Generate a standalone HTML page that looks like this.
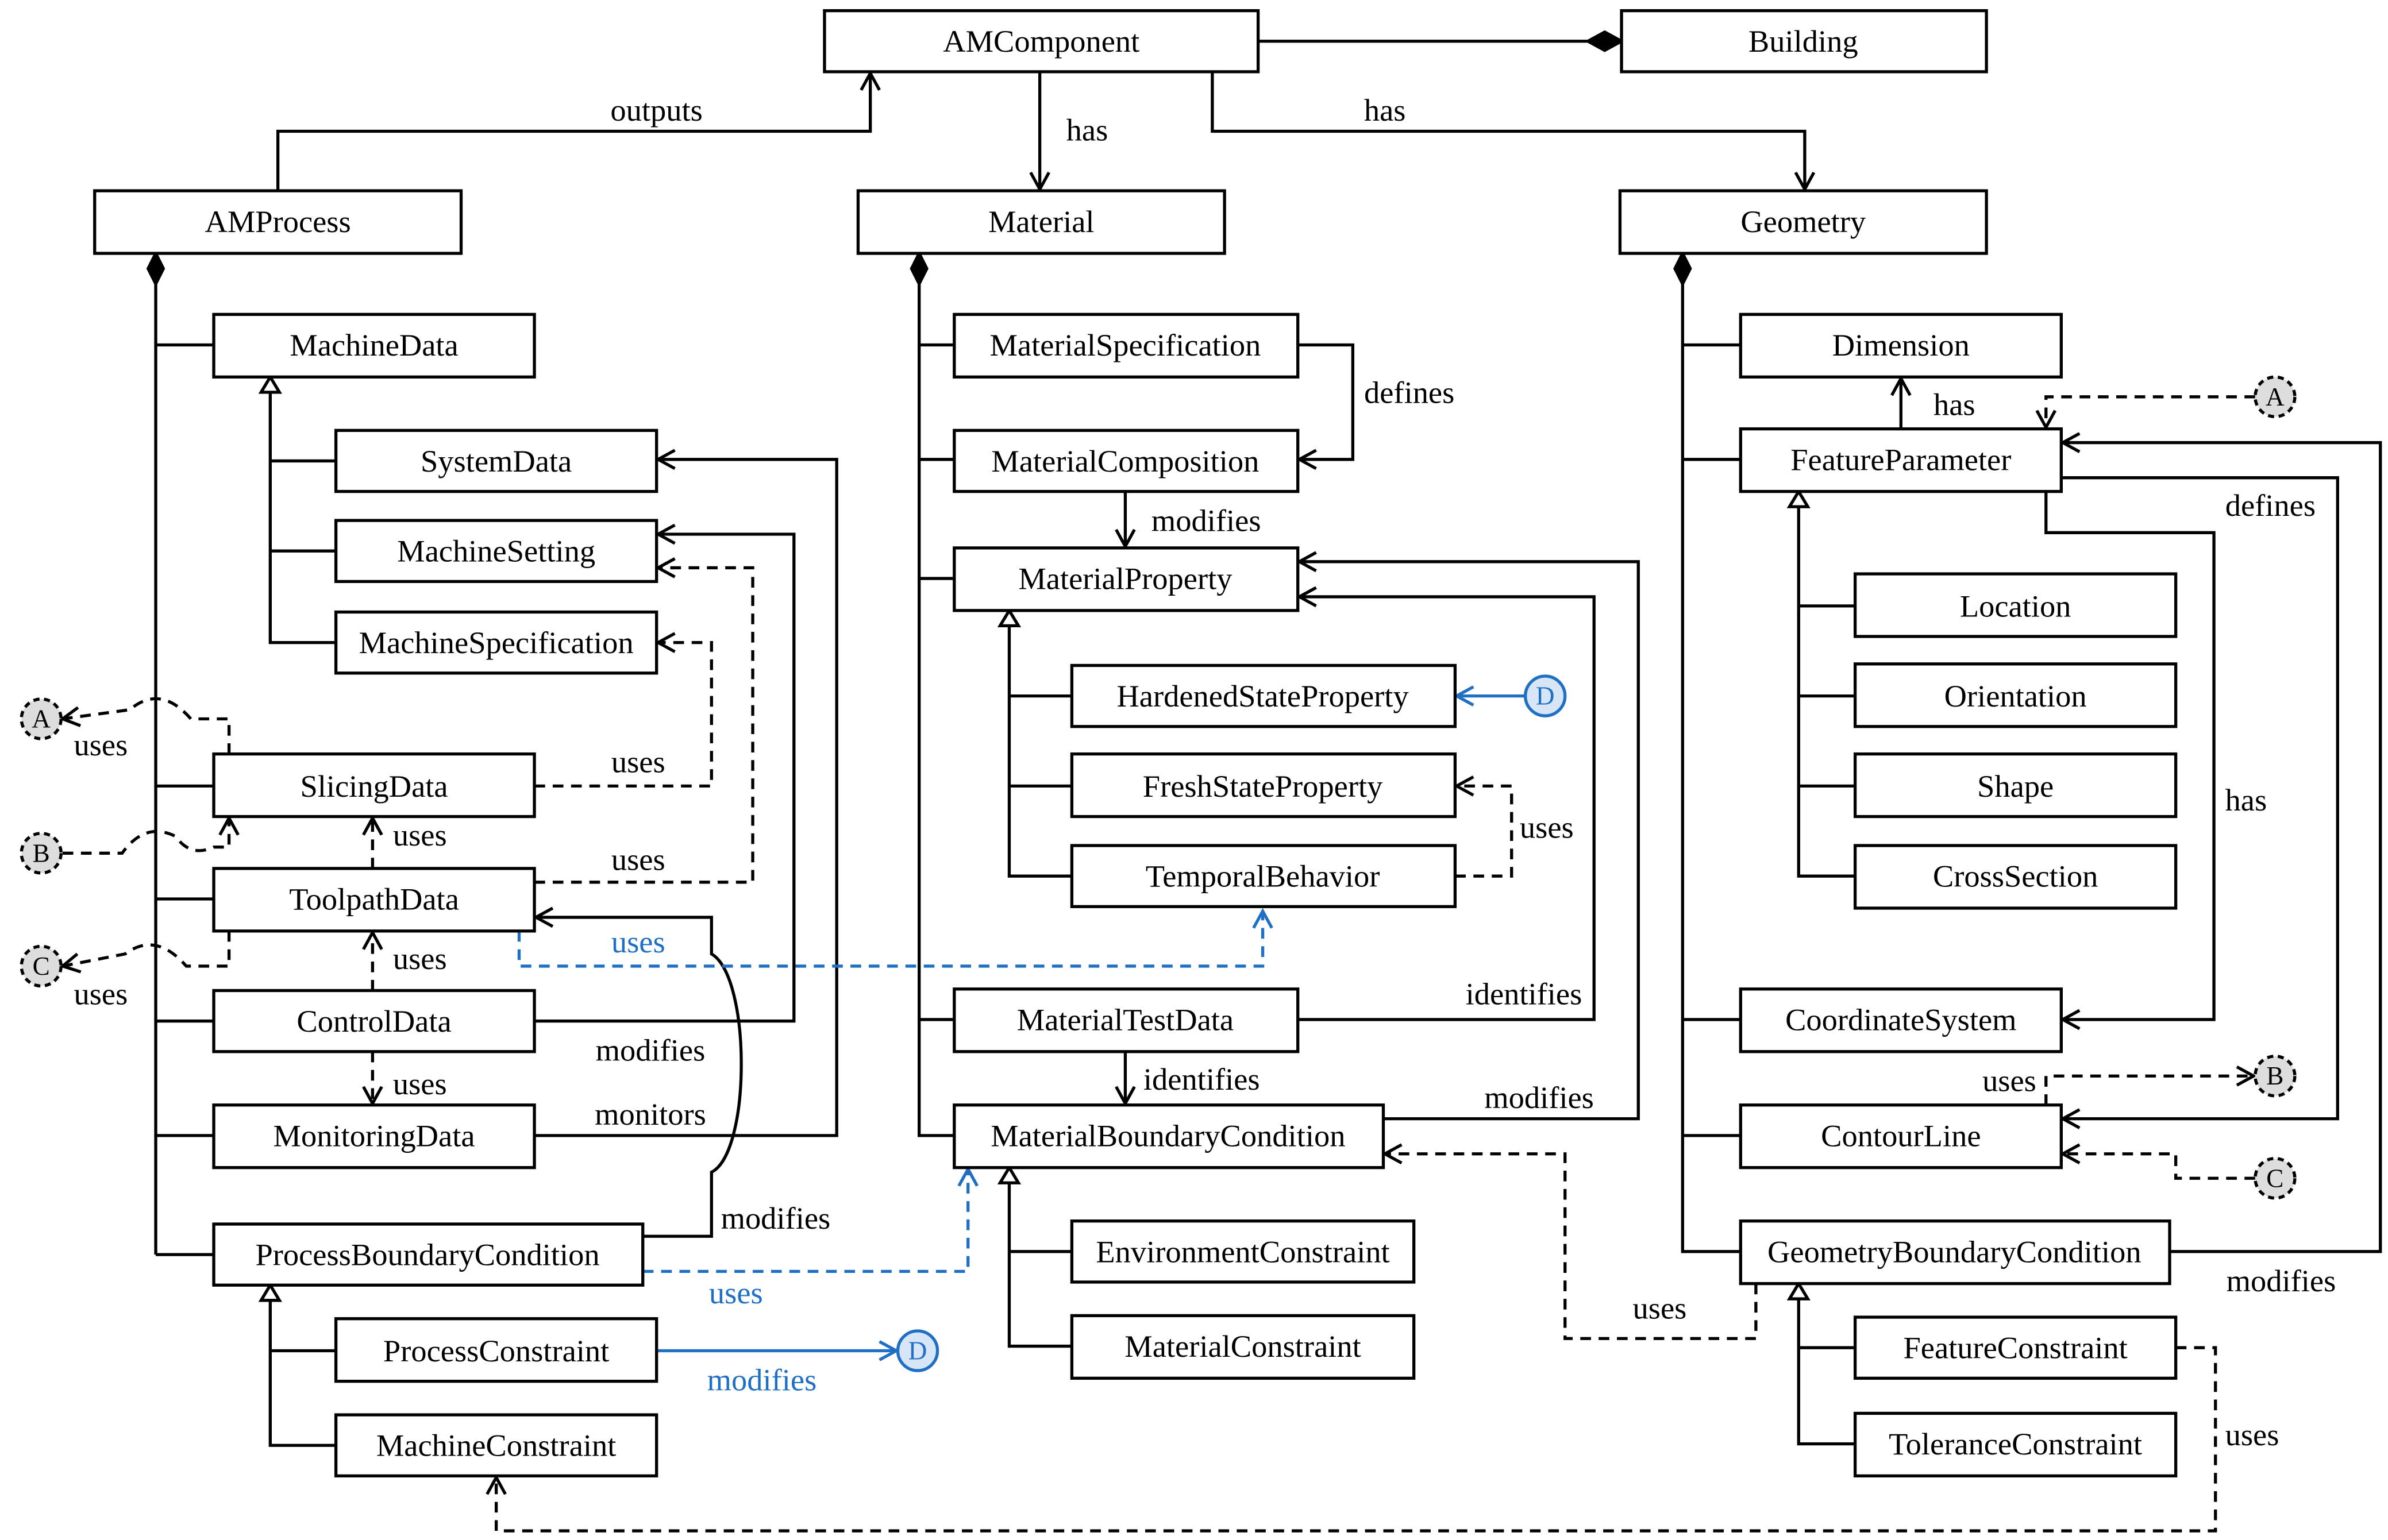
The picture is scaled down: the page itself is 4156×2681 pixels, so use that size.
<!DOCTYPE html>
<html><head><meta charset="utf-8"><style>html,body{margin:0;padding:0;background:#fff}svg{display:block}</style></head><body>
<svg xmlns="http://www.w3.org/2000/svg" width="4156" height="2681" viewBox="0 0 1564 1009" preserveAspectRatio="none" font-family="'Liberation Serif', serif" font-size="20.5">
<defs>
<marker id="a" markerUnits="userSpaceOnUse" markerWidth="16" markerHeight="16" refX="12" refY="7" orient="auto"><path d="M1,1 L12,7 L1,13" fill="none" stroke="#000" stroke-width="2"/></marker>
<marker id="ab" markerUnits="userSpaceOnUse" markerWidth="16" markerHeight="16" refX="12" refY="7" orient="auto"><path d="M1,1 L12,7 L1,13" fill="none" stroke="#1f6fc5" stroke-width="2"/></marker>
</defs>
<g fill="none" stroke="#000" stroke-width="2">
<path d="M102,176 V822 M102,226 H140 M102,515 H140 M102,589 H140 M102,669 H140 M102,744 H140 M102,822 H140"/>
<path d="M602,176 V744 H625 M602,226 H625 M602,301 H625 M602,379 H625 M602,668 H625"/>
<path d="M1102,176 V820 H1140 M1102,226 H1140 M1102,301 H1140 M1102,668 H1140 M1102,744 H1140"/>
<path d="M177,257 V421 H220 M177,302 H220 M177,361 H220"/>
<path d="M661,410 V574 H702 M661,456 H702 M661,515 H702"/>
<path d="M661,775 V882 H702 M661,820 H702"/>
<path d="M1178,332 V574 H1215 M1178,397 H1215 M1178,456 H1215 M1178,515 H1215"/>
<path d="M177,852 V947 H220 M177,885 H220"/>
<path d="M1178,851 V946 H1215 M1178,883 H1215"/>
<path d="M182,125 V86 H570 V48" marker-end="url(#a)"/>
<path d="M681,47 V124" marker-end="url(#a)"/>
<path d="M794,47 V86 H1182 V124" marker-end="url(#a)"/>
<path d="M824,27 H1042"/>
<path d="M850,226 H886 V301 H851" marker-end="url(#a)"/>
<path d="M737,322 V358" marker-end="url(#a)"/>
<path d="M850,668 H1044 V391 H851" marker-end="url(#a)"/>
<path d="M737,689 V723" marker-end="url(#a)"/>
<path d="M906,733 H1073 V368 H851" marker-end="url(#a)"/>
<path d="M350,744 H548 V301 H431" marker-end="url(#a)"/>
<path d="M350,669 H520 V350 H431" marker-end="url(#a)"/>
<path d="M421,810 H466 V768 C492,755 492,640 466,625 V601 H351" marker-end="url(#a)"/>
<path d="M1245,281 V248" marker-end="url(#a)"/>
<path d="M1340,322 V349 H1450 V668 H1351" marker-end="url(#a)"/>
<path d="M1350,313 H1531 V733 H1351" marker-end="url(#a)"/>
<path d="M1421,820 H1559 V290 H1351" marker-end="url(#a)"/>
</g>
<g fill="none" stroke="#000" stroke-width="2" stroke-dasharray="7,5">
<path d="M953,574 H990 V515 H954" marker-end="url(#a)"/>
<path d="M350,578 H493 V372 H431" marker-end="url(#a)"/>
<path d="M350,515 H466 V421 H431" marker-end="url(#a)"/>
<path d="M244,569 V536" marker-end="url(#a)"/>
<path d="M244,649 V611" marker-end="url(#a)"/>
<path d="M244,689 V723" marker-end="url(#a)"/>
<path d="M150,494 V471 H125 Q105,448 85,465 L41,471" marker-end="url(#a)"/>
<path d="M41,559 H80 Q95,538 115,548 Q125,562 140,555 H150 V536" marker-end="url(#a)"/>
<path d="M150,610 V633 H122 Q102,610 82,625 L41,633" marker-end="url(#a)"/>
<path d="M1477,260 H1340 V280" marker-end="url(#a)"/>
<path d="M1340,724 V705 H1476" marker-end="url(#a)"/>
<path d="M1477,772 H1425 V756 H1351" marker-end="url(#a)"/>
<path d="M1150,841 V877 H1025 V756 H907" marker-end="url(#a)"/>
<path d="M1425,883 H1451 V1003 H325 V968" marker-end="url(#a)"/>
</g>
<g fill="none" stroke="#1f6fc5" stroke-width="2">
<path d="M999,456 H954" marker-end="url(#ab)"/>
<path d="M430,885 H587" marker-end="url(#ab)"/>
<path d="M340,610 V633 H827 V597" stroke-dasharray="7,5" marker-end="url(#ab)"/>
<path d="M421,833 H634 V766" stroke-dasharray="7,5" marker-end="url(#ab)"/>
</g>
<g stroke="#000" stroke-width="2">
<path d="M1040,27 L1051,21 L1062,27 L1051,33 Z" fill="#000"/>
<path d="M102,166 L97,176 L102,186 L107,176 Z" fill="#000"/>
<path d="M602,166 L597,176 L602,186 L607,176 Z" fill="#000"/>
<path d="M1102,166 L1097,176 L1102,186 L1107,176 Z" fill="#000"/>
<g fill="#fff">
<path d="M177,247 L171,257 L183,257 Z"/>
<path d="M661,400 L655,410 L667,410 Z"/>
<path d="M661,765 L655,775 L667,775 Z"/>
<path d="M1178,322 L1172,332 L1184,332 Z"/>
<path d="M177,842 L171,852 L183,852 Z"/>
<path d="M1178,841 L1172,851 L1184,851 Z"/>
</g>
</g>
<g stroke="#000" stroke-width="2" stroke-dasharray="4,3" fill="#ddd">
<circle cx="27" cy="471" r="13"/><circle cx="27" cy="559" r="13"/><circle cx="27" cy="633" r="13"/>
<circle cx="1490" cy="260" r="13"/><circle cx="1490" cy="705" r="13"/><circle cx="1490" cy="772" r="13"/>
</g>
<g stroke="#1f6fc5" stroke-width="2" fill="#d6e6f7">
<circle cx="1012" cy="456" r="13"/><circle cx="601" cy="885" r="13"/>
</g>
<g font-size="17" text-anchor="middle" dominant-baseline="central">
<text x="27" y="471">A</text><text x="27" y="559">B</text><text x="27" y="633">C</text>
<text x="1490" y="260">A</text><text x="1490" y="705">B</text><text x="1490" y="772">C</text>
<text x="1012" y="456" fill="#1f6fc5">D</text><text x="601" y="885" fill="#1f6fc5">D</text>
</g>
<g fill="#fff" stroke="#000" stroke-width="2">
<rect x="540" y="7" width="284" height="40"/><rect x="1062" y="7" width="239" height="40"/>
<rect x="62" y="125" width="240" height="41"/><rect x="562" y="125" width="240" height="41"/><rect x="1061" y="125" width="240" height="41"/>
<rect x="140" y="206" width="210" height="41"/><rect x="220" y="282" width="210" height="40"/><rect x="220" y="341" width="210" height="40"/><rect x="220" y="401" width="210" height="40"/>
<rect x="140" y="494" width="210" height="41"/><rect x="140" y="569" width="210" height="41"/><rect x="140" y="649" width="210" height="40"/><rect x="140" y="724" width="210" height="41"/>
<rect x="140" y="802" width="281" height="40"/><rect x="220" y="864" width="210" height="41"/><rect x="220" y="927" width="210" height="40"/>
<rect x="625" y="206" width="225" height="41"/><rect x="625" y="282" width="225" height="40"/><rect x="625" y="359" width="225" height="41"/>
<rect x="702" y="436" width="251" height="40"/><rect x="702" y="494" width="251" height="41"/><rect x="702" y="554" width="251" height="40"/>
<rect x="625" y="648" width="225" height="41"/><rect x="625" y="724" width="281" height="41"/>
<rect x="702" y="800" width="224" height="40"/><rect x="702" y="862" width="224" height="41"/>
<rect x="1140" y="206" width="210" height="41"/><rect x="1140" y="281" width="210" height="41"/>
<rect x="1215" y="376" width="210" height="41"/><rect x="1215" y="435" width="210" height="41"/><rect x="1215" y="494" width="210" height="41"/><rect x="1215" y="554" width="210" height="41"/>
<rect x="1140" y="648" width="210" height="41"/><rect x="1140" y="724" width="210" height="41"/><rect x="1140" y="800" width="281" height="41"/>
<rect x="1215" y="863" width="210" height="40"/><rect x="1215" y="926" width="210" height="41"/>
</g>
<g text-anchor="middle" dominant-baseline="central">
<text x="682" y="27">AMComponent</text><text x="1181" y="27">Building</text>
<text x="182" y="145">AMProcess</text><text x="682" y="145">Material</text><text x="1181" y="145">Geometry</text>
<text x="245" y="226">MachineData</text><text x="325" y="302">SystemData</text><text x="325" y="361">MachineSetting</text><text x="325" y="421">MachineSpecification</text>
<text x="245" y="515">SlicingData</text><text x="245" y="589">ToolpathData</text><text x="245" y="669">ControlData</text><text x="245" y="744">MonitoringData</text>
<text x="280" y="822">ProcessBoundaryCondition</text><text x="325" y="885">ProcessConstraint</text><text x="325" y="947">MachineConstraint</text>
<text x="737" y="226">MaterialSpecification</text><text x="737" y="302">MaterialComposition</text><text x="737" y="379">MaterialProperty</text>
<text x="827" y="456">HardenedStateProperty</text><text x="827" y="515">FreshStateProperty</text><text x="827" y="574">TemporalBehavior</text>
<text x="737" y="668">MaterialTestData</text><text x="765" y="744">MaterialBoundaryCondition</text>
<text x="814" y="820">EnvironmentConstraint</text><text x="814" y="882">MaterialConstraint</text>
<text x="1245" y="226">Dimension</text><text x="1245" y="301">FeatureParameter</text>
<text x="1320" y="397">Location</text><text x="1320" y="456">Orientation</text><text x="1320" y="515">Shape</text><text x="1320" y="574">CrossSection</text>
<text x="1245" y="668">CoordinateSystem</text><text x="1245" y="744">ContourLine</text><text x="1280" y="820">GeometryBoundaryCondition</text>
<text x="1320" y="883">FeatureConstraint</text><text x="1320" y="946">ToleranceConstraint</text>
</g>
<g text-anchor="middle" dominant-baseline="central">
<text x="430" y="72">outputs</text><text x="712" y="85">has</text><text x="907" y="72">has</text>
<text x="923" y="257">defines</text><text x="790" y="341">modifies</text><text x="1013" y="542">uses</text>
<text x="998" y="651">identifies</text><text x="787" y="707">identifies</text><text x="1008" y="719">modifies</text>
<text x="426" y="730">monitors</text><text x="426" y="688">modifies</text><text x="418" y="563">uses</text><text x="418" y="499">uses</text>
<text x="508" y="798">modifies</text><text x="275" y="547">uses</text><text x="275" y="628">uses</text><text x="275" y="710">uses</text>
<text x="66" y="488">uses</text><text x="66" y="651">uses</text>
<text x="1280" y="265">has</text><text x="1471" y="524">has</text><text x="1487" y="331">defines</text><text x="1494" y="839">modifies</text>
<text x="1316" y="708">uses</text><text x="1087" y="857">uses</text><text x="1475" y="940">uses</text>
<g fill="#1f6fc5"><text x="418" y="617">uses</text><text x="482" y="847">uses</text><text x="499" y="904">modifies</text></g>
</g>
</svg>
</body></html>
